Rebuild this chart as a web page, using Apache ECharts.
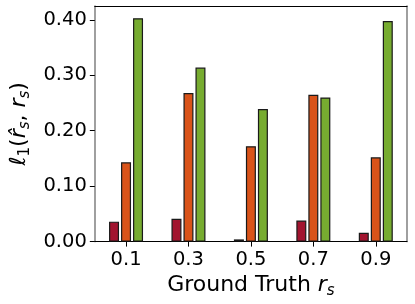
<!DOCTYPE html>
<html>
<head>
<meta charset="utf-8">
<script src="https://cdn.jsdelivr.net/npm/echarts@6/dist/echarts.min.js"></script>
<style>html,body{margin:0;padding:0;background:#fff;}#c{width:415px;height:304px;}</style>
</head>
<body>
<div id="c"></div>
<script>
const categories = ['0.1', '0.3', '0.5', '0.7', '0.9'];
const seriesA = [0.036, 0.041, 0.004, 0.038, 0.016];
const seriesB = [0.143, 0.268, 0.172, 0.265, 0.152];
const seriesC = [0.403, 0.314, 0.239, 0.260, 0.398];
const yTicks = [0, 0.1, 0.2, 0.3, 0.4];

const FONT = 'DejaVu Sans';
const colors = ['#A2142F', '#D95319', '#77AC30'];
const chart = echarts.init(document.getElementById('c'), null, {renderer: 'canvas'});
const mk = (d, i) => ({
  type: 'bar', data: d, barWidth: 10, barGap: '20%',
  itemStyle: {color: colors[i], borderColor: '#1a1a1a', borderWidth: 1.2},
  emphasis: {disabled: true}, animation: false
});
const rich = {
  it: {fontFamily: FONT, fontStyle: 'italic', fontSize: 22, color: '#000', lineHeight: 27},
  up: {fontFamily: FONT, fontSize: 22, color: '#000', lineHeight: 27},
  sub: {fontFamily: FONT, fontStyle: 'italic', fontSize: 15, color: '#000', verticalAlign: 'bottom', lineHeight: 27},
  sub1: {fontFamily: FONT, fontSize: 15, color: '#000', verticalAlign: 'bottom', lineHeight: 27}
};
chart.setOption({
  animation: false,
  grid: {left: 86, right: 8, top: 6, bottom: 58, containLabel: false},
  xAxis: [{
    type: 'category', data: categories, position: 'bottom',
    axisLine: {show: true, onZero: false, lineStyle: {color: '#000', width: 1.2}},
    axisTick: {show: true, alignWithLabel: true, length: 5, lineStyle: {color: '#000'}},
    axisLabel: {fontFamily: FONT, fontSize: 19.5, color: '#000', margin: 8},
    name: '{up|Ground Truth }{it|r}{sub|s}', nameLocation: 'middle', nameGap: 29,
    nameTextStyle: {rich: rich}
  }, {
    type: 'category', data: categories, position: 'top',
    axisLine: {show: true, onZero: false, lineStyle: {color: '#000', width: 1.2}},
    axisTick: {show: false}, axisLabel: {show: false}
  }],
  yAxis: [{
    type: 'value', min: 0, max: 0.425, interval: 0.1,
    axisLine: {show: true, lineStyle: {color: '#888', width: 1.6}},
    axisTick: {show: true, length: 5, customValues: yTicks, lineStyle: {color: '#000'}},
    axisLabel: {fontFamily: FONT, fontSize: 19.5, color: '#000', margin: 8, customValues: yTicks,
      formatter: v => v.toFixed(2)},
    splitLine: {show: false},
    name: '{it|ℓ}{sub1|1}{up|(}{it|r̂}{sub|s}{up|, }{it|r}{sub|s}{up|)}',
    nameLocation: 'middle', nameRotate: 90, nameGap: 58,
    nameTextStyle: {rich: rich}
  }, {
    type: 'value', min: 0, max: 0.425, position: 'right',
    axisLine: {show: true, lineStyle: {color: '#888', width: 1.6}},
    axisTick: {show: false}, axisLabel: {show: false}, splitLine: {show: false}
  }],
  series: [mk(seriesA, 0), mk(seriesB, 1), mk(seriesC, 2)]
});
</script>
</body>
</html>
